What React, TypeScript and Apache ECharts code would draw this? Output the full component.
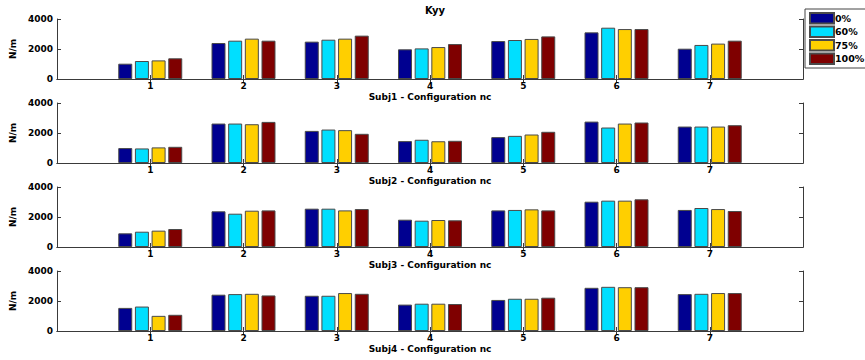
import React, { useEffect, useRef } from 'react';
import * as echarts from 'echarts';

const configs = ['1', '2', '3', '4', '5', '6', '7'];
const axisCats = ['0', ...configs, '8'];
const levels = ['0%', '60%', '75%', '100%'];
const colors = ['#000090', '#00DFFF', '#FFCF00', '#7F0000'];
const subjects = ['Subj1', 'Subj2', 'Subj3', 'Subj4'];
const yMin = 0;
const yMax = 4000;
const yStep = 2000;

// rows: 0%, 60%, 75%, 100%; columns: configuration 1..7
const subj1 = [
  [1020, 2400, 2490, 1980, 2530, 3110, 2020],
  [1200, 2555, 2620, 2040, 2600, 3420, 2270],
  [1240, 2690, 2690, 2130, 2670, 3330, 2360],
  [1380, 2555, 2890, 2330, 2840, 3330, 2555],
];
const subj2 = [
  [995, 2630, 2140, 1460, 1725, 2760, 2430],
  [970, 2630, 2230, 1550, 1810, 2365, 2430],
  [1040, 2585, 2190, 1450, 1900, 2630, 2430],
  [1080, 2740, 1945, 1480, 2080, 2700, 2520],
];
const subj3 = [
  [910, 2380, 2555, 1820, 2440, 3020, 2470],
  [1020, 2220, 2555, 1755, 2470, 3090, 2600],
  [1090, 2420, 2440, 1800, 2510, 3090, 2530],
  [1200, 2440, 2530, 1780, 2440, 3180, 2400],
];
const subj4 = [
  [1540, 2420, 2350, 1760, 2070, 2880, 2460],
  [1630, 2460, 2350, 1820, 2150, 2945, 2480],
  [1010, 2480, 2530, 1820, 2150, 2920, 2530],
  [1080, 2370, 2480, 1800, 2220, 2920, 2530],
];
const panels = [subj1, subj2, subj3, subj4];

const FONT = 'DejaVu Sans';

export default function App() {
  const ref = useRef<HTMLDivElement>(null);
  useEffect(() => {
    if (!ref.current) return;
    const chart = echarts.init(ref.current, undefined, { renderer: 'svg' });
    const tops = [19, 103, 187, 271];
    const grid = tops.map((t) => ({ left: 57, width: 746, top: t, height: 60, containLabel: false }));
    const showIdx = (i: number) => i >= 1 && i <= configs.length;
    const lineStyle = { color: '#3a3a3a', width: 1 };
    const xAxis: any[] = [];
    const yAxis: any[] = [];
    const series: any[] = [];
    panels.forEach((p, gi) => {
      xAxis.push({
        type: 'category',
        gridIndex: gi,
        data: axisCats,
        boundaryGap: false,
        position: 'bottom',
        name: subjects[gi] + ' - Configuration nc',
        nameLocation: 'middle',
        nameGap: 13,
        nameTextStyle: { fontFamily: FONT, fontWeight: 'bold', fontSize: 9, color: '#000' },
        axisLine: { lineStyle },
        axisTick: { inside: true, length: 4, interval: (i: number) => showIdx(i), lineStyle },
        axisLabel: {
          interval: (i: number) => showIdx(i),
          formatter: (v: string) => v,
          fontFamily: FONT, fontWeight: 'bold', fontSize: 9, color: '#000', margin: 2,
        },
        splitLine: { show: false },
      });
      xAxis.push({
        type: 'category',
        gridIndex: gi,
        data: axisCats,
        boundaryGap: false,
        position: 'top',
        axisLine: { lineStyle },
        axisTick: { inside: true, length: 4, interval: (i: number) => showIdx(i), lineStyle },
        axisLabel: { show: false },
        splitLine: { show: false },
      });
      yAxis.push({
        type: 'value',
        gridIndex: gi,
        min: yMin,
        max: yMax,
        interval: yStep,
        position: 'left',
        name: 'N/m',
        nameLocation: 'middle',
        nameGap: 31,
        nameTextStyle: { fontFamily: FONT, fontWeight: 'bold', fontSize: 9, color: '#000' },
        axisLine: { show: true, lineStyle },
        axisTick: { show: true, inside: true, length: 4, lineStyle },
        axisLabel: {
          formatter: (v: number) => String(v),
          fontFamily: FONT, fontWeight: 'bold', fontSize: 9, color: '#000', margin: 4,
        },
        splitLine: { show: false },
      });
      yAxis.push({
        type: 'value',
        gridIndex: gi,
        min: yMin,
        max: yMax,
        interval: yStep,
        position: 'right',
        axisLine: { show: true, lineStyle },
        axisTick: { show: true, inside: true, length: 4, lineStyle },
        axisLabel: { show: false },
        splitLine: { show: false },
      });
      p.forEach((vals, si) => {
        series.push({
          type: 'bar',
          name: levels[si],
          xAxisIndex: gi * 2,
          yAxisIndex: gi * 2,
          data: [null, ...vals, null],
          barWidth: 14,
          barGap: '19%',
          itemStyle: { color: colors[si], borderColor: '#4a4a4a', borderWidth: 1 },
          emphasis: { disabled: true },
        });
      });
    });
    chart.setOption({
      animation: false,
      title: {
        text: 'Kyy',
        left: 430,
        top: 0,
        textAlign: 'center',
        textStyle: { fontFamily: FONT, fontWeight: 'bold', fontSize: 10, color: '#000' },
      },
      legend: {
        data: levels,
        orient: 'vertical',
        left: 805,
        top: 9,
        padding: [3, 8, 3, 4],
        itemGap: 1,
        itemWidth: 24,
        itemHeight: 10.5,
        borderColor: '#444',
        borderWidth: 1,
        backgroundColor: '#fff',
        icon: 'rect',
        textStyle: { fontFamily: FONT, fontWeight: 'bold', fontSize: 9.5, color: '#000', padding: [0, 0, 0, -4] },
      },
      grid,
      xAxis,
      yAxis,
      series,
    });
    return () => chart.dispose();
  }, []);
  return <div ref={ref} style={{ width: 865, height: 360, position: 'absolute', left: 0, top: 0, background: '#fff' }} />;
}
